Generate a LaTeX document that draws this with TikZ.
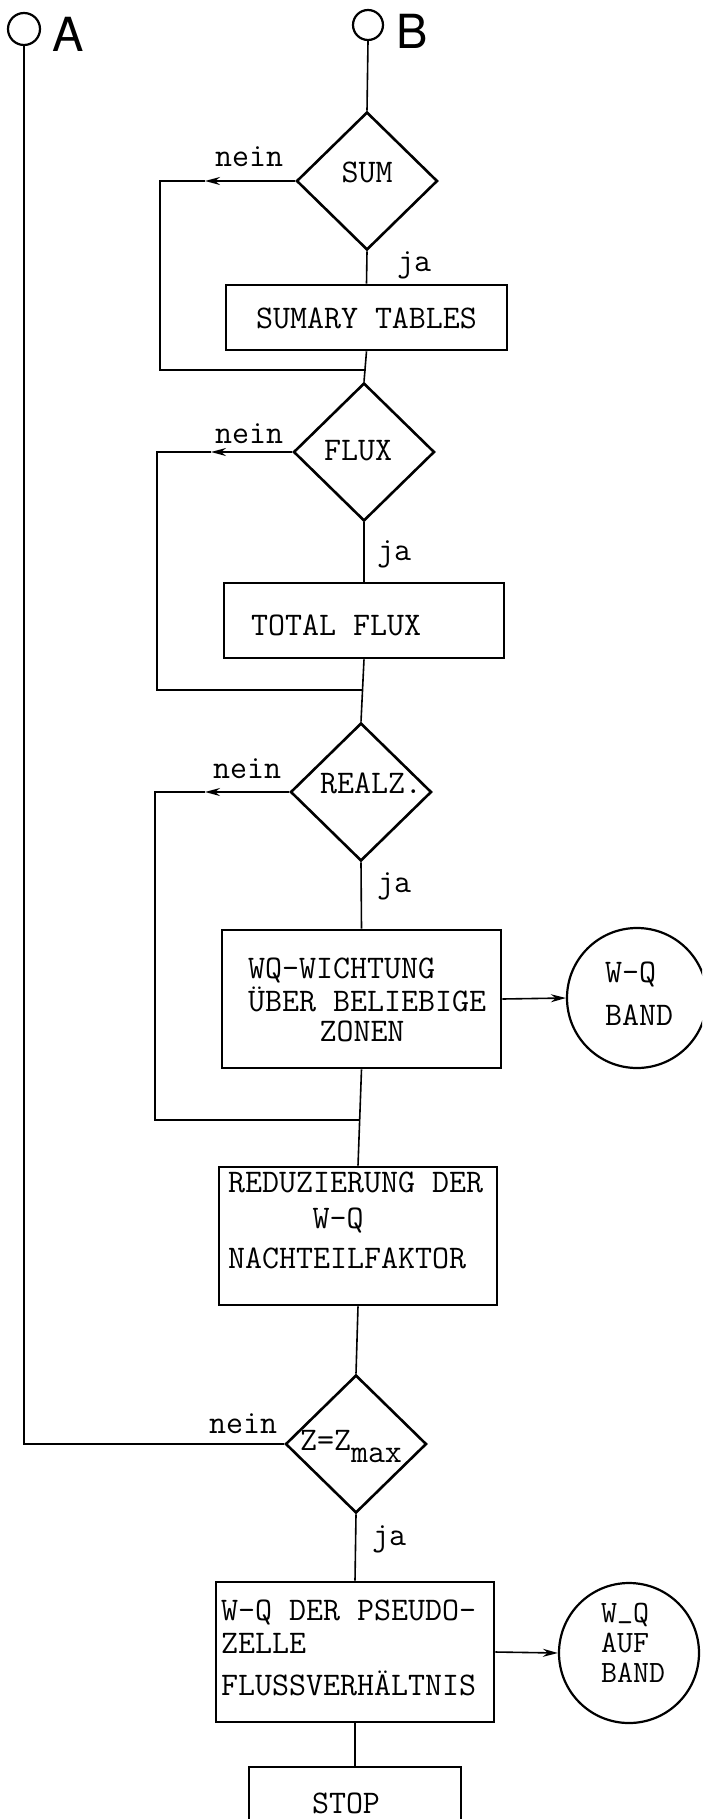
\documentclass[tikz,border=0pt]{standalone}
\usepackage{fontspec}
\newfontfamily\abfont{TeX Gyre Heros}
\usetikzlibrary{shapes.geometric,arrows.meta}
\begin{document}
\begin{tikzpicture}[x=1pt,y=-1pt,
  every node/.style={inner sep=0pt},
  tt/.style={font=\fontsize{33}{38}\selectfont\ttfamily},
  ts/.style={font=\fontsize{31}{36}\selectfont\ttfamily},
  tx/.style={tt, anchor=base west},
  txs/.style={ts, anchor=base west},
  txc/.style={tt, anchor=base},
  box/.style={draw, rectangle, line width=2.6pt},
  dec/.style={draw, diamond, line width=2.6pt, minimum width=141pt, minimum height=138pt, tt},
  tape/.style={draw, circle, line width=2.2pt, minimum size=140pt},
  conn/.style={line width=1.6pt},
  arr/.style={conn, -{Stealth[length=15pt,width=8pt]}},
  big/.style={font=\fontsize{47}{50}\selectfont\abfont},
  port/.style={draw, circle, line width=2.2pt}
]
\useasboundingbox (0,0) rectangle (702,1819);
\clip (0,0) rectangle (702,1819);

% connectors A, B
\node[port, minimum size=32pt] (cA) at (24,29) {};
\node[big] (lA) at (68,34) {A};
\node[port, minimum size=30pt] (cB) at (368,25) {};
\node[big] (lB) at (412,31) {B};

% decisions
\node[dec] (sum) at (367,181) {\makebox[0pt]{\smash{\raisebox{-2pt}{SUM}}}};
\node[dec] (flux) at (364,452) {\makebox[0pt]{\smash{\raisebox{-8pt}{\hspace{-12pt}FLUX}}}};
\node[dec] (realz) at (361,792) {\makebox[0pt]{\smash{\raisebox{-1pt}{\hspace{20pt}REALZ.}}}};
\node[dec] (zmax) at (356,1444) {\makebox[0pt]{\smash{\raisebox{-6pt}{\hspace{-10pt}Z=Z\raisebox{-12pt}{max}}}}};

% boxes
\node[box, minimum width=281pt, minimum height=65pt] (sumt) at (366.5,317.5) {};
\node[box, minimum width=280pt, minimum height=75pt] (tflux) at (364,620.5) {};
\node[box, minimum width=279pt, minimum height=138pt] (wq) at (361.5,999) {};
\node[box, minimum width=278pt, minimum height=138pt] (red) at (358,1236) {};
\node[box, minimum width=278pt, minimum height=140pt] (pseudo) at (355,1652) {};
\node[box, minimum width=212pt, minimum height=70pt] (stop) at (355,1802) {};

% tapes
\node[tape] (band1) at (637,998) {};
\node[tape] (band2) at (629,1653) {};

% box texts
\node[txc] (sumtT) at (366.5,328) {SUMARY TABLES};
\node[tx] (tfluxT) at (251,635) {TOTAL FLUX};
\node[tx] (wqT1) at (248,978) {WQ-WICHTUNG};
\node[tx] (wqT2) at (248,1011) {ÜBER BELIEBIGE};
\node[txc] (wqT3) at (362,1041) {ZONEN};
\node[tx] (redT1) at (228,1192) {REDUZIERUNG DER};
\node[txc] (redT2) at (338,1228) {W-Q};
\node[tx] (redT3) at (228,1268) {NACHTEILFAKTOR};
\node[tx] (psT1) at (221,1620) {W-Q DER PSEUDO-};
\node[tx] (psT2) at (221,1653) {ZELLE};
\node[tx] (psT3) at (221,1695) {FLUSSVERHÄLTNIS};
\node[txc] (stopT) at (346,1813) {STOP};
\node[tx] (b1T1) at (605,982) {W-Q};
\node[tx] (b1T2) at (605,1025) {BAND};
\node[txs] (b2T1) at (601,1622) {W\raisebox{5pt}{\_}Q};
\node[txs] (b2T2) at (601,1652) {AUF};
\node[txs] (b2T3) at (601,1682) {BAND};

% labels
\node[tx] (n1) at (215,167) {nein};
\node[tx] (n2) at (215,443) {nein};
\node[tx] (n3) at (213,778) {nein};
\node[tx] (n4) at (209,1433) {nein};
\node[tx] (y1) at (397,272) {ja};
\node[tx] (y2) at (377,560) {ja};
\node[tx] (y3) at (377,892) {ja};
\node[tx] (y4) at (372,1545) {ja};

% coordinates for loops
\coordinate (t1) at (205,181);
\coordinate (k1) at (160,370);
\coordinate (j1) at (366,370);
\coordinate (t2) at (211,452);
\coordinate (k2) at (157,690);
\coordinate (j2) at (363,690);
\coordinate (t3) at (205,792);
\coordinate (k3) at (155,1120);
\coordinate (j3) at (360,1120);

% main flow
\draw[conn] (cB.south) -- (sum.north);
\draw[conn] (sum.south) -- (sumt.north);
\draw[conn] (sumt.south) -- (flux.north);
\draw[conn] (flux.south) -- (tflux.north);
\draw[conn] (tflux.south) -- (realz.north);
\draw[conn] (realz.south) -- (wq.north);
\draw[conn] (wq.south) -- (red.north);
\draw[conn] (red.south) -- (zmax.north);
\draw[conn] (zmax.south) -- (pseudo.north);
\draw[conn] (pseudo.south) -- (stop.north);

% loops
\draw[arr] (sum.west) -- (t1);
\draw[conn] (t1) -| (k1) -- (j1);
\draw[arr] (flux.west) -- (t2);
\draw[conn] (t2) -| (k2) -- (j2);
\draw[arr] (realz.west) -- (t3);
\draw[conn] (t3) -| (k3) -- (j3);

% A line
\draw[conn] (cA.south) |- (zmax.west);

% outputs
\draw[arr] (wq.east) -- (band1.west);
\draw[arr] (pseudo.east) -- (band2.west);
\end{tikzpicture}
\end{document}
